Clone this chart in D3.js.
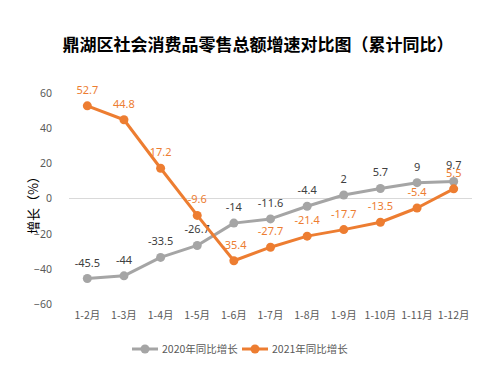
<!DOCTYPE html>
<html>
<head>
<meta charset="utf-8">
<script src="https://cdn.jsdelivr.net/npm/d3@7"></script>
<style>
  body { margin: 0; background: #fff; }
  svg { font-family: "Noto Sans CJK SC", "Noto Sans", sans-serif; }
</style>
</head>
<body>
<div id="chart"></div>
<script>
// chart data
var months = ["1-2月", "1-3月", "1-4月", "1-5月", "1-6月", "1-7月", "1-8月", "1-9月", "1-10月", "1-11月", "1-12月"];
var growth2020 = [-45.5, -44, -33.5, -26.7, -14, -11.6, -4.4, 2, 5.7, 9, 9.7];
var growth2021 = [52.7, 44.8, 17.2, -9.6, -35.4, -27.7, -21.4, -17.7, -13.5, -5.4, 5.5];
var yTicks = [-60, -40, -20, 0, 20, 40, 60];
var seriesNames = ["2020年同比增长", "2021年同比增长"];

var outerWidth = 503, outerHeight = 379;
var margin = {top: 93, right: 31, bottom: 75, left: 69};
var width = outerWidth - margin.left - margin.right;
var height = outerHeight - margin.top - margin.bottom;

var gray = "#a5a5a5", orange = "#ed7d31";

var svg = d3.select("#chart").append("svg")
  .attr("width", outerWidth)
  .attr("height", outerHeight);

svg.append("rect")
  .attr("width", outerWidth)
  .attr("height", outerHeight)
  .attr("fill", "#ffffff");

// title
svg.append("text")
  .attr("x", 258)
  .attr("y", 51)
  .attr("text-anchor", "middle")
  .attr("font-size", 17)
  .attr("font-weight", "bold")
  .attr("fill", "#000")
  .text("鼎湖区社会消费品零售总额增速对比图（累计同比）");

var g = svg.append("g")
  .attr("transform", "translate(" + margin.left + "," + margin.top + ")");

var x = d3.scaleBand().domain(months).range([0, width]);
var y = d3.scaleLinear().domain([-60, 60]).range([height, 0]);

// y axis labels only
var yAxis = d3.axisLeft(y).tickValues(yTicks).tickSize(0).tickPadding(17);
g.append("g").call(yAxis)
  .call(function(s){ s.select(".domain").remove(); })
  .selectAll("text")
  .attr("font-size", 10.5)
  .attr("fill", "#595959")
  .attr("font-family", "'Noto Sans', 'DejaVu Sans', sans-serif");

// zero line
g.append("line")
  .attr("x1", 0).attr("x2", width)
  .attr("y1", y(0)).attr("y2", y(0))
  .attr("stroke", "#d9d9d9")
  .attr("stroke-width", 1);

// x axis labels at bottom
var xAxis = d3.axisBottom(x).tickSize(0).tickPadding(8);
g.append("g")
  .attr("transform", "translate(0," + height + ")")
  .call(xAxis)
  .call(function(s){ s.select(".domain").remove(); })
  .selectAll("text")
  .attr("font-size", 10.5)
  .attr("fill", "#595959")
  .attr("font-family", "'Noto Sans CJK SC', sans-serif");

// y axis title
svg.append("text")
  .attr("transform", "translate(38,202) rotate(-90)")
  .attr("text-anchor", "middle")
  .attr("font-size", 13)
  .attr("fill", "#000")
  .text("增长（%）");

var line = d3.line()
  .x(function(d, i){ return x(months[i]) + x.bandwidth() / 2; })
  .y(function(d){ return y(d); });

function drawSeries(data, color, labelColor) {
  g.append("path")
    .attr("d", line(data))
    .attr("fill", "none")
    .attr("stroke", color)
    .attr("stroke-width", 3)
    .attr("stroke-linejoin", "round");

  g.selectAll(null).data(data).enter().append("circle")
    .attr("cx", function(d, i){ return x(months[i]) + x.bandwidth() / 2; })
    .attr("cy", function(d){ return y(d); })
    .attr("r", 4.5)
    .attr("fill", color);

  g.selectAll(null).data(data).enter().append("text")
    .attr("x", function(d, i){ return x(months[i]) + x.bandwidth() / 2; })
    .attr("y", function(d){ return y(d) - 12; })
    .attr("text-anchor", "middle")
    .attr("font-size", 11)
    .attr("fill", labelColor)
    .attr("font-family", "'Noto Sans', 'DejaVu Sans', sans-serif")
    .text(function(d){ return d; });
}

drawSeries(growth2020, gray, "#404040");
drawSeries(growth2021, orange, orange);

// legend
var legendItems = [
  {name: seriesNames[0], color: gray, x: 132},
  {name: seriesNames[1], color: orange, x: 242}
];
var legend = svg.append("g");
legendItems.forEach(function(item){
  var lg = legend.append("g").attr("transform", "translate(" + item.x + ",349)");
  lg.append("line").attr("x1", 0).attr("x2", 26).attr("y1", 0).attr("y2", 0)
    .attr("stroke", item.color).attr("stroke-width", 3);
  lg.append("circle").attr("cx", 13).attr("cy", 0).attr("r", 4.5).attr("fill", item.color);
  lg.append("text").attr("x", 30).attr("y", 4)
    .attr("font-size", 10.5)
    .attr("fill", "#595959")
    .text(item.name);
});
</script>
</body>
</html>
